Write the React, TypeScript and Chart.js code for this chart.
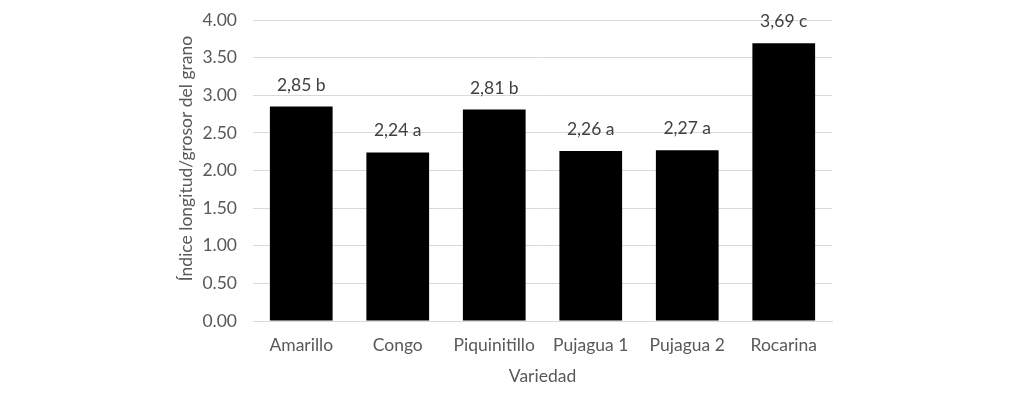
import React, { useEffect, useRef } from "react";
import { Chart, registerables } from "chart.js";

Chart.register(...registerables);

const categories = ["Amarillo", "Congo", "Piquinitillo", "Pujagua 1", "Pujagua 2", "Rocarina"];
const values = [2.85, 2.24, 2.81, 2.26, 2.27, 3.69];
const letters = ["b", "a", "b", "a", "a", "c"];
const yTitle = "Índice longitud/grosor del grano";
const xTitle = "Variedad";

const FONT = "Lato, 'Open Sans', sans-serif";
const FS = 17.5;

const labelPlugin = {
  id: "barLabels",
  afterDatasetsDraw(chart: any) {
    const ctx = chart.ctx;
    const meta = chart.getDatasetMeta(0);
    ctx.save();
    ctx.font = `${FS}px ${FONT}`;
    ctx.fillStyle = "#404040";
    ctx.textAlign = "center";
    ctx.textBaseline = "alphabetic";
    meta.data.forEach((el: any, i: number) => {
      const txt = values[i].toFixed(2).replace(".", ",") + " " + letters[i];
      ctx.fillText(txt, el.x, el.y - 16);
    });
    // y axis title
    const area = chart.chartArea;
    ctx.translate(186, (area.top + area.bottom) / 2 - 12);
    ctx.rotate(-Math.PI / 2);
    ctx.fillStyle = "#595959";
    ctx.textBaseline = "middle";
    ctx.fillText(yTitle, 0, 0);
    ctx.restore();
  },
};

export default function App() {
  const ref = useRef<HTMLCanvasElement>(null);
  useEffect(() => {
    if (!ref.current) return;
    const chart = new Chart(ref.current, {
      type: "bar",
      data: {
        labels: categories,
        datasets: [
          {
            data: values,
            backgroundColor: "#000000",
            borderWidth: 0,
            categoryPercentage: 1,
            barPercentage: 0.65,
          },
        ],
      },
      options: {
        responsive: false,
        animation: false,
        layout: { padding: { left: 175, right: 181, top: 20, bottom: 8 } },
        plugins: { legend: { display: false }, tooltip: { enabled: false } },
        scales: {
          x: {
            grid: { display: false, drawTicks: false },
            border: { display: true, color: "#d9d9d9", width: 1 },
            ticks: { color: "#595959", font: { family: FONT, size: FS }, padding: 14, maxRotation: 0 },
            title: { display: true, text: xTitle, color: "#595959", font: { family: FONT, size: FS }, padding: 0 },
            afterFit: (s: any) => {
              s.height = 66;
              s.paddingLeft = 0;
              s.paddingRight = 0;
            },
          },
          y: {
            min: 0,
            max: 4,
            ticks: {
              stepSize: 0.5,
              color: "#595959",
              font: { family: FONT, size: FS },
              padding: 16,
              callback: (v: any) => Number(v).toFixed(2),
            },
            grid: { color: "#d9d9d9", drawTicks: false },
            border: { display: false },
            afterFit: (s: any) => {
              s.width = 78;
              s.paddingTop = 0;
              s.paddingBottom = 0;
            },
          },
        },
      },
      plugins: [labelPlugin],
    });
    return () => chart.destroy();
  }, []);
  return (
    <div style={{ position: "fixed", left: 0, top: 0, width: 1013, height: 395, background: "#fff" }}>
      <canvas ref={ref} width={1013} height={395} />
    </div>
  );
}
